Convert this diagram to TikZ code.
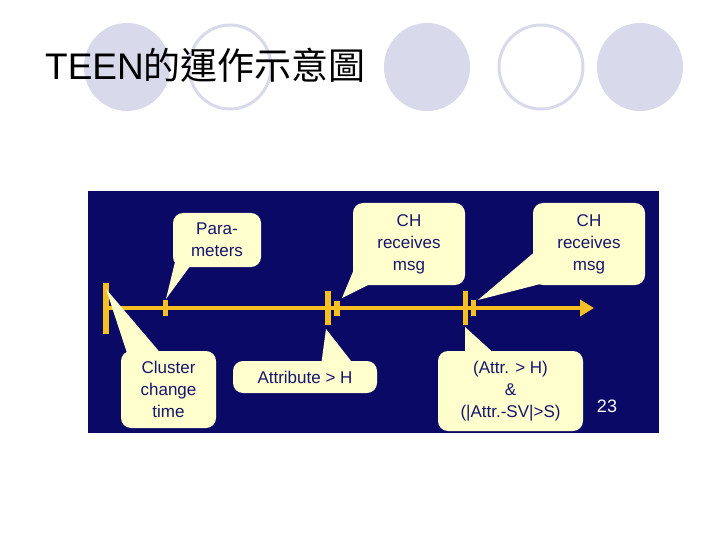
\documentclass[tikz,border=0pt]{standalone}
\usepackage{fontspec}
\setmainfont{Liberation Sans}
\newfontfamily\cjkfont{Noto Sans CJK TC}
\usetikzlibrary{arrows.meta}
\definecolor{lav}{RGB}{217,217,236}
\definecolor{navybg}{RGB}{10,10,102}
\definecolor{tlyellow}{RGB}{246,192,34}
\definecolor{callfill}{RGB}{255,255,206}
\definecolor{calltext}{RGB}{22,22,110}
\begin{document}
\begin{tikzpicture}[x=1pt,y=-1pt,
  deco/.style={fill=lav},
  decoring/.style={draw=lav,line width=3pt},
  callbox/.style={fill=callfill,rounded corners=10pt,inner sep=0pt,align=center,
     text=calltext,font=\fontsize{17}{22}\selectfont},
  pointer/.style={fill=callfill},
  tlbar/.style={fill=tlyellow},
  tlline/.style={draw=tlyellow,line width=4pt,-{Triangle[length=14pt,width=16pt]}}
]
\useasboundingbox (0,0) rectangle (720,540);
\fill[white] (0,0) rectangle (720,540);
% decorative circles
\fill[deco] (127,67) ellipse (43 and 44);
\draw[decoring] (230,67) ellipse (41 and 42);
\fill[deco] (427,67) ellipse (43 and 44);
\draw[decoring] (541,67) ellipse (42 and 42);
\fill[deco] (640,67) ellipse (43 and 44);
% title
\node[anchor=base west,inner sep=0pt,font=\fontsize{37}{40}\selectfont] (title) at (45,80)
  {TEEN{\cjkfont 的運作示意圖}};
% dark panel
\fill[navybg] (88,191) rectangle (659,433);
% timeline
\coordinate (tstart) at (106,308);
\coordinate (tend) at (594,308);
\draw[tlline] (tstart) -- (tend);
\fill[tlbar] (103,283) rectangle (109,334);
\fill[tlbar] (163,300) rectangle (168,316);
\fill[tlbar] (325,291) rectangle (331,325);
\fill[tlbar] (334,301) rectangle (340,316);
\fill[tlbar] (463,291) rectangle (468,325);
\fill[tlbar] (471,300) rectangle (476,316);
% callout pointers (tips)
\coordinate (tipA) at (166,299);
\coordinate (tipB) at (106,289);
\coordinate (tipC) at (326,329);
\coordinate (tipD) at (342,298);
\coordinate (tipE) at (478,300);
\coordinate (tipF) at (465,327);
\fill[pointer] (tipA) -- (175,262) -- (193,262) -- cycle;
\fill[pointer] (tipB) -- (128,356) -- (163,356) -- cycle;
\fill[pointer] (tipC) -- (321,366) -- (355,366) -- cycle;
\fill[pointer] (tipD) -- (357,262) -- (376,281) -- cycle;
\fill[pointer] (tipE) -- (537,250) -- (552,281) -- cycle;
\fill[pointer] (tipF) -- (465,356) -- (497,356) -- cycle;
% callout boxes
\node[callbox,minimum width=88pt,minimum height=54pt] (params) at (217,240) {Para-\\meters};
\node[callbox,minimum width=95pt,minimum height=77pt] (cluster) at (168.5,389.5) {Cluster\\change\\time};
\node[callbox,minimum width=144pt,minimum height=32pt] (attr) at (305,377) {Attribute > H};
\node[callbox,minimum width=112pt,minimum height=82pt] (ch1) at (409,244) {CH\\receives\\msg};
\node[callbox,minimum width=112pt,minimum height=82pt] (ch2) at (589,244) {CH\\receives\\msg};
\node[callbox,minimum width=145pt,minimum height=80pt] (cond) at (510.5,391) {(Attr. > H)\\\&\\(|Attr.-SV|>S)};
% page number
\node[text=white,font=\fontsize{18}{20}\selectfont] (pnum) at (607,406) {23};
\end{tikzpicture}
\end{document}
